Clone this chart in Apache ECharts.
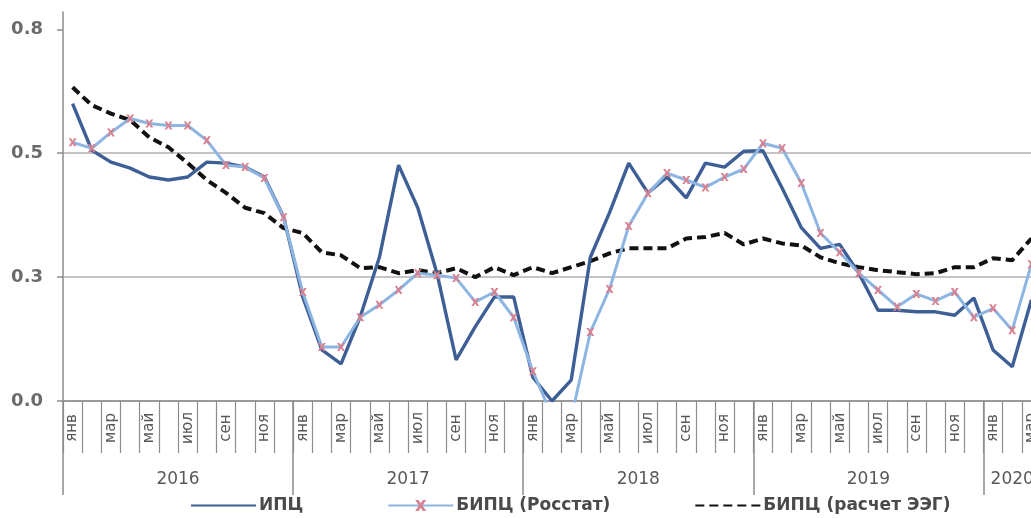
<!DOCTYPE html>
<html>
<head>
<meta charset="utf-8">
<script src="https://cdn.jsdelivr.net/npm/echarts@6/dist/echarts.min.js"></script>
<style>html,body{margin:0;padding:0;background:#fff;overflow:hidden}#c{width:1031px;height:518px}</style>
</head>
<body>
<div id="c"></div>
<script>
var monthNames = ['янв','фев','мар','апр','май','июн','июл','авг','сен','окт','ноя','дек'];
var years = ['2016','2017','2018','2019','2020'];
var monthsInLastYear = 3;
var yTicks = [0, 0.25, 0.5, 0.75];

var ipc = [
  0.60, 0.506, 0.482, 0.47, 0.452, 0.446, 0.452, 0.482, 0.48, 0.472, 0.452, 0.372,
  0.21, 0.103, 0.075, 0.17, 0.29, 0.476, 0.39, 0.258, 0.083, 0.15, 0.21, 0.21,
  0.048, 0.0, 0.042, 0.29, 0.38, 0.48, 0.42, 0.452, 0.41, 0.48, 0.472, 0.504,
  0.505, 0.43, 0.35, 0.308, 0.316, 0.258, 0.183, 0.183, 0.18, 0.18, 0.173, 0.208,
  0.103, 0.069, 0.204
];
var bipcRosstat = [
  0.522, 0.51, 0.542, 0.57, 0.56, 0.556, 0.556, 0.526, 0.476, 0.472, 0.45, 0.371,
  0.22, 0.109, 0.109, 0.169, 0.194, 0.224, 0.258, 0.254, 0.248, 0.2, 0.22, 0.169,
  0.06, -0.03, -0.035, 0.139, 0.226, 0.353, 0.419, 0.46, 0.446, 0.431, 0.452, 0.468,
  0.52, 0.51, 0.44, 0.339, 0.3, 0.258, 0.224, 0.19, 0.216, 0.202, 0.22, 0.169,
  0.187, 0.143, 0.276
];
var bipcEEG = [
  0.633, 0.597, 0.58, 0.567, 0.532, 0.512, 0.48, 0.446, 0.42, 0.39, 0.379, 0.349,
  0.339, 0.30, 0.294, 0.268, 0.27, 0.258, 0.264, 0.258, 0.268, 0.25, 0.27, 0.254,
  0.27, 0.258, 0.27, 0.282, 0.298, 0.308, 0.308, 0.308, 0.328, 0.331, 0.339, 0.316,
  0.328, 0.318, 0.314, 0.29, 0.278, 0.27, 0.264, 0.26, 0.256, 0.258, 0.27, 0.27,
  0.288, 0.284, 0.328
];

// build category list and year groups
var categories = [];
var yearStarts = [], yearCenters = [];
for (var y = 0; y < years.length; y++) {
  var n = (y === years.length - 1) ? monthsInLastYear : 12;
  yearStarts.push(categories.length);
  yearCenters.push(categories.length + n / 2);
  for (var m = 0; m < n; m++) categories.push(monthNames[m]);
}
var total = categories.length;

var FONT = 'DejaVu Sans';
var gray = '#595959';
var axisGray = '#8c8c8c';

var chart = echarts.init(document.getElementById('c'));
chart.setOption({
  animation: false,
  backgroundColor: '#ffffff',
  grid: { left: 63, top: 12, width: 978, height: 389, containLabel: false, outerBoundsMode: 'none' },
  legend: {
    left: 190, top: 497, padding: 0,
    itemWidth: 65, itemHeight: 14, itemGap: 84,
    textStyle: { fontFamily: FONT, fontSize: 17, fontWeight: 'bold', color: '#4a4a4a', padding: [0,0,0,-2] },
    data: [
      { name: 'ИПЦ', itemStyle: { opacity: 0 } },
      { name: 'БИПЦ (Росстат)' },
      { name: 'БИПЦ (расчет ЭЭГ)', itemStyle: { opacity: 0 } }
    ]
  },
  xAxis: [
    {
      type: 'category',
      data: categories,
      boundaryGap: true,
      axisLine: { show: true, lineStyle: { color: axisGray, width: 1.5 } },
      axisTick: { show: true, interval: 0, length: 52, lineStyle: { color: axisGray, width: 1.2 } },
      axisLabel: {
        interval: 1, rotate: 90, margin: 27, align: 'center', verticalAlign: 'middle',
        fontFamily: FONT, fontSize: 15, color: gray, hideOverlap: false
      },
      splitLine: { show: false }
    },
    {
      type: 'value',
      min: 0, max: total,
      position: 'bottom',
      axisLine: { show: false },
      axisTick: { show: true, customValues: yearStarts, length: 94, lineStyle: { color: axisGray, width: 1.5 } },
      axisLabel: {
        show: true, customValues: yearCenters, margin: 70,
        fontFamily: FONT, fontSize: 17, color: gray,
        formatter: function (v) { return years[Math.min(Math.floor(v / 12), years.length - 1)]; }
      },
      splitLine: { show: false }
    }
  ],
  yAxis: {
    type: 'value',
    min: 0, max: 0.785, interval: 0.25,
    axisLine: { show: true, lineStyle: { color: axisGray, width: 1.5 } },
    axisTick: { show: true, length: 6, customValues: yTicks, lineStyle: { color: axisGray, width: 1.5 } },
    axisLabel: {
      customValues: yTicks, margin: 20,
      fontFamily: FONT, fontSize: 18, fontWeight: 'bold', color: '#6b6b6b',
      formatter: function (v) { return v.toFixed(1); }
    },
    splitLine: { show: true, showMaxLine: false, lineStyle: { color: '#c4c4c4', width: 2 } }
  },
  series: [
    {
      name: 'ИПЦ', type: 'line', data: ipc, xAxisIndex: 0,
      symbol: 'none', z: 3,
      lineStyle: { color: '#3d5f95', width: 3.4 },
      itemStyle: { color: '#3d5f95' }
    },
    {
      name: 'БИПЦ (Росстат)', type: 'line', data: bipcRosstat, xAxisIndex: 0,
      symbol: 'path://M0,0 L3,0 L5,3 L7,0 L10,0 L6.5,5 L10,10 L7,10 L5,7 L3,10 L0,10 L3.5,5 Z',
      symbolSize: 8, showSymbol: true, z: 4,
      lineStyle: { color: '#8db5e2', width: 3 },
      itemStyle: { color: '#d9808f' }
    },
    {
      name: 'БИПЦ (расчет ЭЭГ)', type: 'line', data: bipcEEG, xAxisIndex: 0,
      symbol: 'none', z: 2,
      lineStyle: { color: '#111111', width: 4, type: [9, 5] },
      itemStyle: { color: '#111111' }
    }
  ]
});
</script>
</body>
</html>
